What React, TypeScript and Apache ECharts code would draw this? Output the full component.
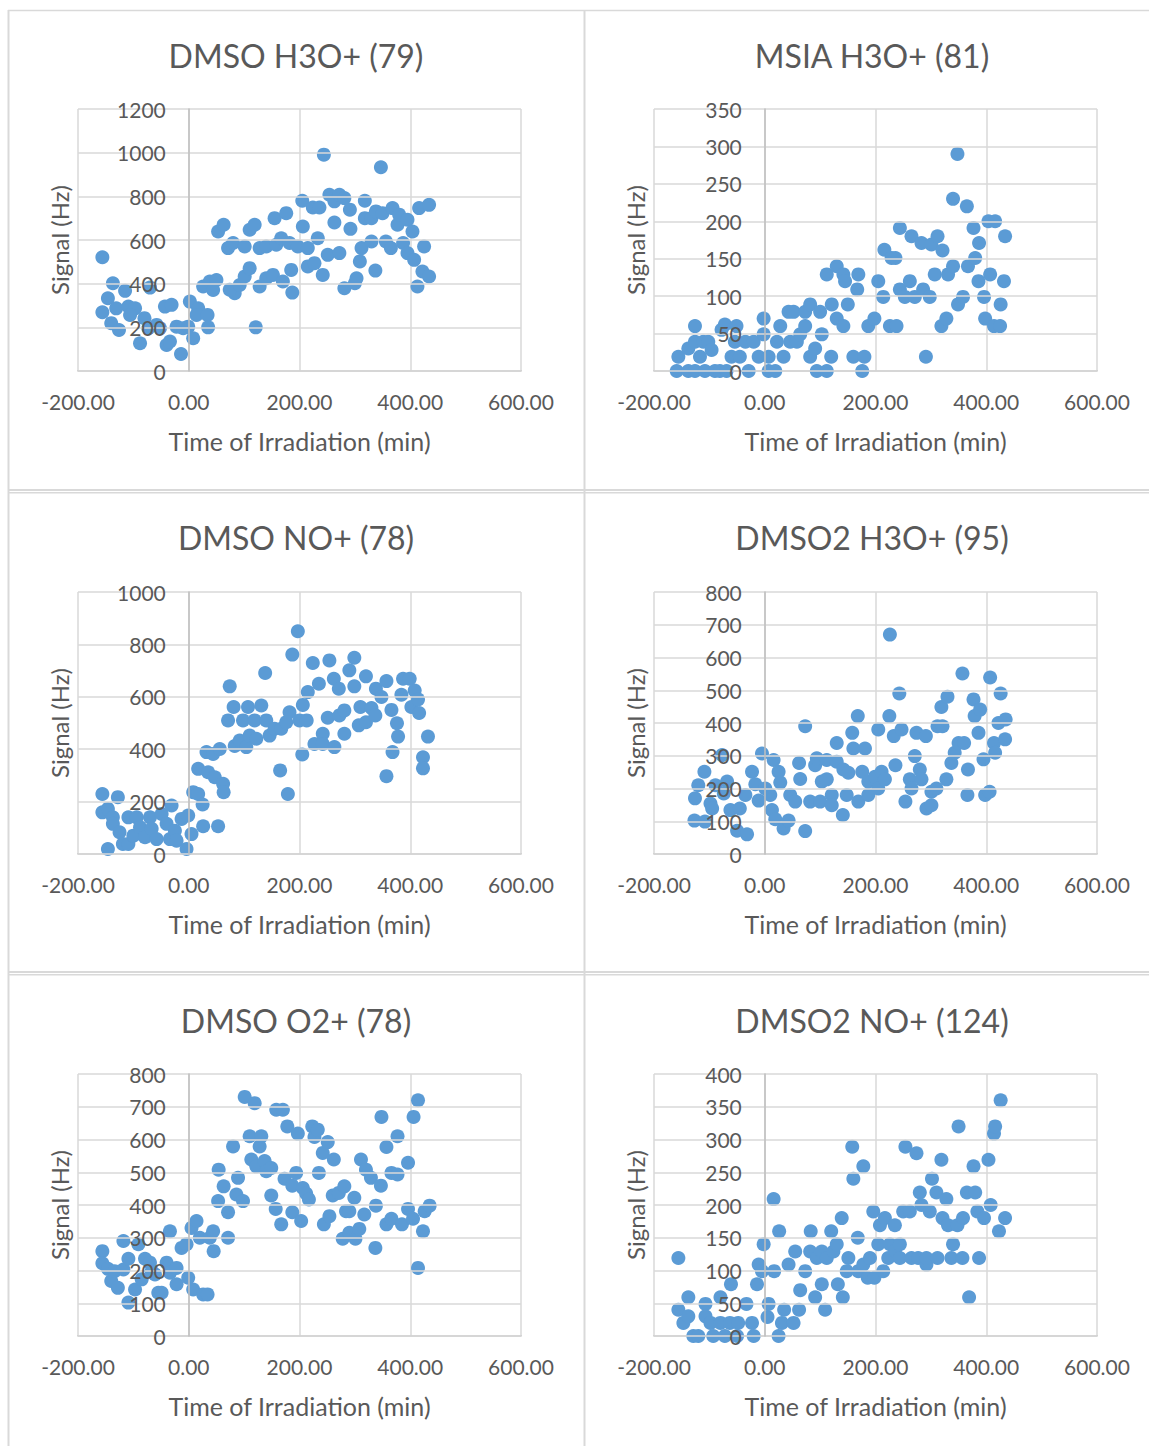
import React, { useEffect, useRef } from "react";
import * as echarts from "echarts";

type P = [number, number];

const TITLES = ["DMSO H3O+ (79)", "MSIA H3O+ (81)", "DMSO NO+ (78)", "DMSO2 H3O+ (95)", "DMSO O2+ (78)", "DMSO2 NO+ (124)"];
const X_NAME = "Time of Irradiation (min)";
const Y_NAME = "Signal (Hz)";
const X_MIN = -200;
const X_MAX = 600;
const X_STEP = 200;
const Y_MAXES = [1200, 350, 1000, 800, 800, 400];
const Y_STEPS = [200, 50, 200, 100, 100, 50];

const dmsoH3O: P[] = [[-156,521],[-156,269],[-146,333],[-137,402],[-140,219],[-126,188],[-131,287],[-115,367],[-109,295],[-97,287],[-106,257],[-88,127],[-80,242],[-70,382],[-73,196],[-58,211],[-52,196],[-43,295],[-31,303],[-40,119],[-34,135],[-14,78],[-22,203],[-10,196],[-1,203],[8,150],[2,318],[17,287],[14,257],[26,387],[34,257],[35,200],[38,410],[50,417],[44,371],[53,639],[63,670],[71,563],[80,586],[83,356],[74,372],[92,394],[101,433],[101,570],[110,471],[110,647],[119,670],[121,200],[128,387],[128,563],[140,570],[140,425],[152,440],[155,700],[158,578],[167,608],[170,410],[176,723],[182,586],[185,463],[187,359],[197,570],[206,662],[205,780],[215,563],[215,479],[227,494],[224,749],[236,749],[233,608],[244,991],[242,440],[251,532],[254,807],[263,680],[263,777],[272,807],[272,540],[281,792],[281,379],[291,739],[292,651],[300,402],[303,425],[309,502],[312,563],[318,780],[318,700],[330,593],[330,700],[337,460],[338,731],[347,933],[350,723],[356,593],[365,563],[368,746],[377,670],[380,716],[387,586],[395,693],[395,540],[404,639],[407,509],[413,387],[416,746],[422,456],[425,570],[434,433],[434,761]];

const msiaH3O: P[] = [[-159,0],[-156,19],[-138,0],[-138,30],[-126,60],[-126,39],[-117,19],[-111,39],[-102,39],[-96,28],[-126,0],[-108,0],[-90,0],[-81,0],[-69,0],[-78,55],[-72,62],[-60,19],[-54,39],[-51,60],[-45,19],[-35,39],[-29,0],[-20,39],[-11,19],[-2,70],[-2,49],[7,0],[7,19],[19,0],[22,39],[28,60],[34,19],[43,79],[52,79],[46,39],[58,39],[64,49],[73,60],[73,79],[82,89],[82,19],[91,30],[94,0],[100,79],[103,49],[112,0],[112,129],[120,19],[121,89],[130,140],[130,70],[142,129],[142,60],[145,120],[150,89],[160,19],[167,109],[169,129],[176,0],[180,19],[187,60],[198,70],[205,120],[214,99],[216,162],[229,151],[226,60],[238,60],[236,151],[244,191],[244,109],[253,99],[262,120],[265,180],[271,99],[283,171],[286,109],[291,19],[298,99],[301,169],[307,129],[312,180],[319,60],[321,161],[328,70],[331,129],[340,140],[340,230],[348,290],[349,89],[358,99],[365,220],[367,140],[377,191],[380,151],[386,120],[387,171],[396,99],[398,70],[404,200],[407,129],[416,200],[414,60],[425,60],[426,89],[434,180],[432,120]];

const dmsoNO: P[] = [[-156,229],[-146,19],[-156,159],[-146,172],[-137,140],[-137,115],[-128,217],[-125,83],[-119,38],[-109,38],[-109,140],[-100,70],[-94,140],[-88,102],[-79,64],[-70,140],[-67,96],[-58,57],[-49,153],[-40,115],[-31,185],[-34,57],[-25,89],[-22,51],[-13,134],[-4,19],[-1,147],[5,76],[8,236],[17,229],[17,325],[25,189],[26,106],[32,389],[35,312],[44,382],[47,293],[53,106],[56,401],[62,268],[63,236],[71,510],[74,640],[81,561],[83,412],[92,433],[98,510],[104,408],[107,561],[110,452],[119,510],[122,440],[131,567],[138,691],[140,510],[146,452],[155,478],[165,319],[167,478],[176,503],[179,229],[182,541],[187,761],[197,850],[200,510],[206,569],[205,380],[213,510],[215,618],[224,729],[227,420],[235,650],[242,459],[242,420],[251,520],[254,739],[262,669],[263,408],[271,631],[272,529],[281,548],[281,459],[290,701],[299,749],[299,640],[307,491],[310,561],[320,678],[320,503],[330,557],[337,529],[338,631],[348,599],[357,660],[357,297],[366,550],[368,389],[376,499],[378,448],[384,608],[387,669],[399,669],[402,561],[408,624],[414,590],[416,538],[423,369],[423,327],[432,448]];

const dmso2H3O: P[] = [[-127,102],[-126,170],[-120,210],[-109,251],[-108,99],[-98,154],[-95,139],[-89,210],[-77,302],[-74,185],[-68,221],[-62,134],[-50,71],[-45,139],[-32,60],[-35,180],[-23,251],[-17,213],[-11,163],[-5,307],[1,200],[10,180],[13,134],[16,287],[19,106],[25,251],[28,218],[34,78],[43,102],[46,180],[55,160],[62,278],[64,229],[73,390],[73,70],[82,160],[91,271],[94,292],[100,160],[103,221],[112,228],[112,287],[121,180],[121,149],[130,339],[130,282],[141,119],[142,258],[148,180],[151,248],[158,370],[160,322],[168,421],[169,160],[176,251],[181,322],[187,180],[187,221],[199,236],[205,200],[205,380],[211,251],[217,228],[225,421],[226,670],[233,360],[236,271],[243,490],[247,380],[254,160],[262,228],[265,200],[271,299],[274,370],[280,258],[283,228],[291,360],[292,139],[301,149],[301,190],[310,200],[312,390],[321,390],[319,449],[328,228],[330,480],[337,278],[343,309],[350,339],[357,551],[360,339],[366,180],[367,258],[377,472],[379,421],[386,370],[389,441],[395,289],[398,180],[406,190],[407,539],[414,339],[416,309],[422,400],[426,490],[434,350],[435,411]];

const dmsoO2: P[] = [[-156,259],[-156,222],[-146,205],[-140,168],[-128,147],[-134,198],[-118,290],[-118,203],[-109,102],[-109,236],[-97,142],[-91,280],[-85,173],[-79,236],[-70,224],[-67,198],[-61,188],[-55,132],[-49,132],[-40,224],[-34,320],[-34,193],[-22,208],[-22,158],[-13,269],[-4,280],[-1,178],[5,330],[8,142],[14,351],[20,300],[26,127],[34,127],[38,300],[44,320],[45,259],[53,412],[54,508],[63,457],[71,378],[71,300],[80,579],[86,432],[89,483],[98,412],[101,730],[110,610],[113,539],[119,711],[122,518],[128,579],[131,610],[137,534],[140,503],[149,513],[149,429],[157,388],[158,691],[170,691],[173,480],[178,640],[167,341],[187,378],[187,459],[194,498],[197,618],[203,351],[206,452],[212,435],[217,417],[223,640],[227,608],[233,630],[235,498],[242,559],[244,341],[251,592],[254,366],[262,539],[260,429],[271,437],[278,297],[281,457],[284,381],[290,315],[290,381],[299,422],[301,297],[308,327],[311,539],[317,371],[320,508],[329,483],[337,269],[338,398],[347,459],[348,669],[357,341],[357,577],[366,498],[366,358],[377,493],[377,610],[385,341],[396,529],[396,388],[405,358],[406,669],[414,720],[414,208],[423,320],[426,381],[435,398]];

const dmso2NO: P[] = [[-156,119],[-156,40],[-147,20],[-138,59],[-138,30],[-129,0],[-120,0],[-107,49],[-107,30],[-98,20],[-93,0],[-80,59],[-80,20],[-72,0],[-61,79],[-63,20],[-50,0],[-48,20],[-33,49],[-23,20],[-20,0],[-14,79],[-11,109],[-2,140],[-5,99],[7,49],[5,29],[16,209],[17,99],[25,0],[26,160],[31,20],[35,40],[43,109],[52,20],[55,129],[62,40],[64,70],[73,99],[82,129],[83,160],[91,59],[94,119],[103,79],[103,129],[109,40],[112,119],[120,160],[124,129],[130,140],[132,79],[139,180],[141,59],[148,99],[151,119],[158,289],[160,240],[168,150],[169,99],[178,259],[178,109],[186,89],[190,119],[196,190],[198,89],[205,140],[208,169],[214,99],[217,180],[223,119],[226,140],[235,169],[235,130],[244,140],[244,119],[250,190],[254,289],[262,190],[265,119],[274,279],[277,119],[280,219],[283,200],[292,109],[292,119],[298,190],[302,240],[310,219],[312,119],[319,269],[321,180],[328,209],[331,169],[337,119],[340,140],[348,169],[350,320],[357,119],[358,180],[365,219],[369,59],[377,259],[380,219],[384,190],[387,119],[396,180],[404,269],[408,200],[414,309],[416,320],[423,160],[426,360],[434,180]];

const SERIES_DATA: P[][] = [dmsoH3O, msiaH3O, dmsoNO, dmso2H3O, dmsoO2, dmso2NO];

const GRID_LEFTS = [78, 654];
const GRID_TOPS = [109, 592, 1074];
const GRID_W = 443;
const GRID_H = 262;
const TITLE_X = [291, 867];
const TITLE_Y = [55, 537, 1020];

const FONT = "Lato, 'Noto Sans', sans-serif";
const TXT = "#595959";
const GRIDC = "#d9d9d9";
const AXISC = "#bfbfbf";
const BORDER = "#d9d9d9";

export default function App() {
  const ref = useRef<HTMLDivElement>(null);
  useEffect(() => {
    if (!ref.current) return;
    const chart = echarts.init(ref.current, null, { renderer: "svg" });
    const grids: any[] = [];
    const xAxes: any[] = [];
    const yAxes: any[] = [];
    const series: any[] = [];
    const titles: any[] = [];
    const yOffset = -((0 - X_MIN) / (X_MAX - X_MIN)) * GRID_W;
    for (let i = 0; i < 6; i++) {
      const col = i % 2;
      const row = Math.floor(i / 2);
      grids.push({
        left: GRID_LEFTS[col], top: GRID_TOPS[row], width: GRID_W, height: GRID_H,
        containLabel: false, outerBoundsMode: "none",
      });
      xAxes.push({
        type: "value", gridIndex: i, min: X_MIN, max: X_MAX, interval: X_STEP,
        name: X_NAME, nameLocation: "middle", nameGap: 57,
        nameTextStyle: { color: TXT, fontSize: 25, fontFamily: FONT },
        axisLine: { show: true, onZero: false, lineStyle: { color: AXISC, width: 1.5 } },
        axisTick: { show: false },
        axisLabel: { color: TXT, fontSize: 21, fontFamily: FONT, margin: 20, formatter: (v: number) => v.toFixed(2) },
        splitLine: { show: true, lineStyle: { color: GRIDC, width: 1.5 } },
      });
      yAxes.push({
        type: "value", gridIndex: i, min: 0, max: Y_MAXES[i], interval: Y_STEPS[i],
        position: "left", offset: yOffset,
        name: Y_NAME, nameLocation: "middle", nameGap: 117,
        nameTextStyle: { color: TXT, fontSize: 24, fontFamily: FONT },
        z: 5,
        axisLine: { show: true, onZero: false, lineStyle: { color: AXISC, width: 1.5 } },
        axisTick: { show: false },
        axisLabel: { color: TXT, fontSize: 21, fontFamily: FONT, margin: 23, formatter: (v: number) => String(v) },
        splitLine: { show: true, lineStyle: { color: GRIDC, width: 1.5 } },
      });
      series.push({
        type: "scatter", xAxisIndex: i, yAxisIndex: i, data: SERIES_DATA[i],
        symbol: "circle", symbolSize: 14, itemStyle: { color: "#5b9bd5", opacity: 1 },
        z: 2,
      });
      titles.push({
        text: TITLES[i], left: TITLE_X[col], top: TITLE_Y[row] - 21, textAlign: "center",
        textStyle: { color: TXT, fontSize: 32, fontWeight: "normal", fontFamily: FONT },
      });
    }
    const line = (x1: number, y1: number, x2: number, y2: number, w = 2) => ({
      type: "line", shape: { x1, y1, x2, y2 }, style: { stroke: BORDER, lineWidth: w }, silent: true,
    });
    chart.setOption({
      animation: false,
      backgroundColor: "#ffffff",
      title: titles,
      grid: grids,
      xAxis: xAxes,
      yAxis: yAxes,
      series,
      graphic: [
        line(8, 10.5, 1149, 10.5, 1.5),
        line(8.5, 10, 8.5, 1446),
        line(584.5, 10, 584.5, 1446),
        line(8, 490, 1149, 490, 2),
        line(8, 492.8, 1149, 492.8, 1.5),
        line(8, 972, 1149, 972, 2),
        line(8, 974.8, 1149, 974.8, 1.5),
      ],
    });
    return () => chart.dispose();
  }, []);
  return <div ref={ref} style={{ position: "absolute", left: 0, top: 0, width: 1149, height: 1447 }} />;
}
